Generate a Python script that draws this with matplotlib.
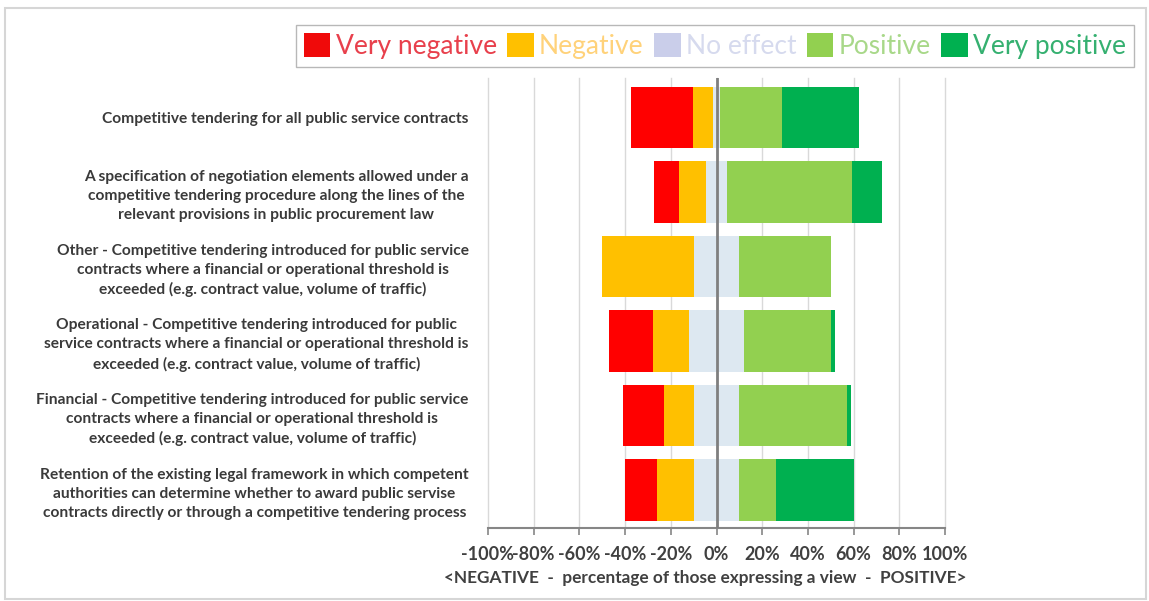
import matplotlib
matplotlib.use("Agg")
import matplotlib.pyplot as plt
from matplotlib.patches import Patch, Rectangle
import numpy as np

categories = [
    "Competitive tendering for all public service contracts",
    "A specification of negotiation elements allowed under a\ncompetitive tendering procedure along the lines of the\nrelevant provisions in public procurement law",
    "Other - Competitive tendering introduced for public service\ncontracts where a financial or operational threshold is\nexceeded (e.g. contract value, volume of traffic)",
    "Operational - Competitive tendering introduced for public\nservice contracts where a financial or operational threshold is\nexceeded (e.g. contract value, volume of traffic)",
    "Financial - Competitive tendering introduced for public service\ncontracts where a financial or operational threshold is\nexceeded (e.g. contract value, volume of traffic)",
    "Retention of the existing legal framework in which competent\nauthorities can determine whether to award public servise\ncontracts directly or through a competitive tendering process",
]
very_negative = [27, 11, 0, 19, 18, 14]
negative = [9, 12, 40, 16, 13, 16]
no_effect = [3, 9, 20, 24, 20, 20]
positive = [27, 55, 40, 38, 47, 16]
very_positive = [34, 13, 0, 2, 2, 34]

series_names = ["Very negative", "Negative", "No effect", "Positive", "Very positive"]
tick_values = [-100, -80, -60, -40, -20, 0, 20, 40, 60, 80, 100]
tick_labels = ["-100%", "-80%", "-60%", "-40%", "-20%", "0%", "20%", "40%", "60%", "80%", "100%"]
xlabel = "<NEGATIVE  -  percentage of those expressing a view  -  POSITIVE>"

bar_colors = ["#FF0000", "#FFC000", "#DDE8F1", "#92D050", "#00B050"]
legend_patch_colors = ["#F00A0A", "#FFC000", "#CACEEA", "#92D050", "#00B050"]
legend_text_colors = ["#E8404C", "#FFD27A", "#D6DAEE", "#A8D889", "#35B070"]

plt.rcParams["font.family"] = ["Lato", "DejaVu Sans"]

fig = plt.figure(figsize=(11.49, 6.01), dpi=100)
ax = fig.add_axes([488 / 1149, 1 - 528 / 601, (945 - 488) / 1149, (528 - 78) / 601])

y = np.arange(len(categories))
vn = np.array(very_negative, float)
ng = np.array(negative, float)
ne = np.array(no_effect, float)
po = np.array(positive, float)
vp = np.array(very_positive, float)
h = 0.82

ax.barh(y, vn, left=-(vn + ng + ne / 2), height=h, color=bar_colors[0], zorder=2)
ax.barh(y, ng, left=-(ng + ne / 2), height=h, color=bar_colors[1], zorder=2)
ax.barh(y, ne / 2, left=-ne / 2, height=h, color=bar_colors[2], zorder=2)
ax.barh(y, ne / 2, left=0, height=h, color=bar_colors[2], zorder=2)
ax.barh(y, po, left=ne / 2, height=h, color=bar_colors[3], zorder=2)
ax.barh(y, vp, left=ne / 2 + po, height=h, color=bar_colors[4], zorder=2)

ax.axvline(0, color="#7F7F7F", lw=2, zorder=3)

ax.set_xlim(-100, 100)
ax.set_ylim(5.51, -0.53)
ax.set_xticks(tick_values)
ax.set_xticklabels(tick_labels, fontsize=13, fontweight="bold", color="#404040")
ax.set_yticks(y)
ax.set_yticklabels(categories, fontsize=11.2, fontweight="bold", color="#3A3A3A", linespacing=1.45)
for lbl in ax.get_yticklabels():
    lbl.set_multialignment("center")
ax.tick_params(axis="y", length=0, pad=14)
ax.tick_params(axis="x", length=5, width=1.2, color="#868686", pad=8, direction="out")
ax.set_xlabel(xlabel, fontsize=12.4, fontweight="bold", color="#404040")
ax.xaxis.set_label_coords((705 - 488) / 457, -(578 - 528) / 450, transform=ax.transAxes)
ax.xaxis.label.set_va("center")

ax.grid(axis="x", color="#D9D9D9", lw=1)
ax.set_axisbelow(True)
for gl in ax.get_xgridlines():
    gl.set_clip_on(False)
for s in ["left", "right", "top"]:
    ax.spines[s].set_visible(False)
ax.spines["bottom"].set_color("#868686")
ax.spines["bottom"].set_linewidth(1.5)

handles = [Patch(facecolor=c, edgecolor="none") for c in legend_patch_colors]
leg = fig.legend(handles, series_names, ncol=5, loc="center",
                 bbox_to_anchor=(715 / 1149, 1 - 46 / 601),
                 fontsize=19, frameon=True, fancybox=False, edgecolor="#A6A6A6",
                 handlelength=1.0, handleheight=1.0, handletextpad=0.2,
                 columnspacing=0.4, borderpad=0.3, borderaxespad=0)
leg.get_frame().set_linewidth(1)
for t, c in zip(leg.get_texts(), legend_text_colors):
    t.set_color(c)

fig.patches.append(Rectangle((4.5 / 1149, 2 / 601), (1146 - 4.5) / 1149, (593 - 2) / 601,
                             transform=fig.transFigure, fill=False,
                             edgecolor="#D6D6D6", lw=1.5, zorder=0))

fig.savefig("out.png", dpi=100, facecolor="white")
